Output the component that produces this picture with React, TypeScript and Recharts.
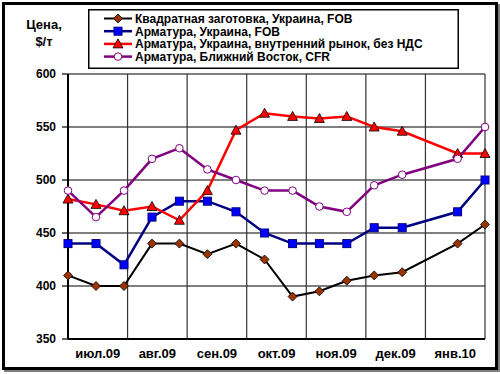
import { LineChart, Line, XAxis, YAxis, CartesianGrid, Legend } from "recharts";

// position of each quote, in months from 1 Jul 2009
const quotePos = [0, 0.47, 0.94, 1.41, 1.87, 2.34, 2.82, 3.3, 3.77, 4.22, 4.68, 5.14, 5.61, 6.54, 7];

const billetUaFob = [410, 400, 400, 440, 440, 430, 440, 425, 390, 395, 405, 410, 413, 440, 458];
const rebarUaFob = [440, 440, 420, 465, 480, 480, 470, 450, 440, 440, 440, 455, 455, 470, 500];
const rebarUaDomestic = [482, 477, 471, 475, 462, 490, 547, 563, 560, 558, 560, 550, 546, 525, 525];
const rebarMeCfr = [490, 465, 490, 520, 530, 510, 500, 490, 490, 475, 470, 495, 505, 520, 550];

const monthLabels = ["июл.09", "авг.09", "сен.09", "окт.09", "ноя.09", "дек.09", "янв.10"];
const monthLabelPos = [0.5, 1.5, 2.5, 3.5, 4.5, 5.5, 6.5];
const monthBounds = [0, 1, 2, 3, 4, 5, 6, 7];
const priceTicks = [350, 400, 450, 500, 550, 600];

const data = quotePos.map((pos, i) => ({
  pos,
  billet: billetUaFob[i],
  rebarFob: rebarUaFob[i],
  rebarDom: rebarUaDomestic[i],
  rebarMe: rebarMeCfr[i],
}));

const FONT = '"Liberation Sans", Arial, sans-serif';

const Diamond = ({ cx, cy }: any) => (
  <path d={`M${cx},${cy - 4.5}L${cx + 4.5},${cy}L${cx},${cy + 4.5}L${cx - 4.5},${cy}Z`} fill="#993300" stroke="#000" strokeWidth={0.8} />
);
const Square = ({ cx, cy }: any) => (
  <rect x={cx - 4} y={cy - 4} width={8} height={8} fill="#0000ff" stroke="#000080" strokeWidth={1} />
);
const Triangle = ({ cx, cy }: any) => (
  <path d={`M${cx},${cy - 5}L${cx + 5},${cy + 4}L${cx - 5},${cy + 4}Z`} fill="#ff0000" stroke="#000" strokeWidth={0.8} />
);
const Circle = ({ cx, cy }: any) => (
  <circle cx={cx} cy={cy} r={3.8} fill="#fff" stroke="#800080" strokeWidth={1} />
);

const series = [
  { key: "billet", name: "Квадратная заготовка, Украина, FOB", color: "#000000", width: 2, Marker: Diamond },
  { key: "rebarFob", name: "Арматура, Украина, FOB", color: "#000080", width: 2.5, Marker: Square },
  { key: "rebarDom", name: "Арматура, Украина, внутренний рынок, без НДС", color: "#ff0000", width: 2.5, Marker: Triangle },
  { key: "rebarMe", name: "Арматура, Ближний Восток, CFR", color: "#800080", width: 2.5, Marker: Circle },
];

function LegendBox() {
  return (
    <svg width={371} height={60} style={{ display: "block" }}>
      <rect x={0.75} y={0.75} width={369.5} height={58.5} fill="#fff" stroke="#000" strokeWidth={1.5} />
      {series.map((s, i) => {
        const y = 9.5 + i * 12.7;
        return (
          <g key={s.key}>
            <line x1={16} x2={44} y1={y} y2={y} stroke={s.color} strokeWidth={s.width} />
            <s.Marker cx={30} cy={y} />
            <text x={47} y={y + 4.3} fontFamily={FONT} fontWeight="bold" fontSize={12} fill="#000">
              {s.name}
            </text>
          </g>
        );
      })}
    </svg>
  );
}

function AxisTitle({ viewBox }: any) {
  const cx = viewBox.x + 36;
  return (
    <g fontFamily={FONT} fontWeight="bold" fontSize={13} fill="#000" textAnchor="middle">
      <text x={cx} y={viewBox.y - 45}>Цена,</text>
      <text x={cx} y={viewBox.y - 28}>$/т</text>
    </g>
  );
}

export default function App() {
  return (
    <div style={{ position: "absolute", left: 0, top: 0, width: 500, height: 374, background: "#fff" }}>
      <div
        style={{
          position: "absolute",
          left: 2,
          top: 2,
          width: 490,
          height: 362,
          border: "3px solid #000",
          boxShadow: "2px 2px 0 #808080",
        }}
      />
      <div style={{ position: "absolute", left: 0, top: 0 }}>
        <LineChart width={500} height={374} data={data} margin={{ top: 74, right: 15, bottom: 5, left: 8 }}>
          <CartesianGrid vertical={false} stroke="#000" strokeWidth={1.2} />
          <CartesianGrid
            horizontal={false}
            stroke="#333"
            strokeWidth={1.2}
            verticalCoordinatesGenerator={({ offset }: any) =>
              monthBounds.map((m) => offset.left + (offset.width * m) / 7)
            }
          />
          <XAxis
            dataKey="pos"
            type="number"
            domain={[0, 7]}
            ticks={monthLabelPos}
            tickFormatter={(v: number) => monthLabels[monthLabelPos.indexOf(v)]}
            interval={0}
            height={30}
            tickLine={false}
            tickSize={0}
            tickMargin={10}
            axisLine={{ stroke: "#000", strokeWidth: 2 }}
            tick={{ fill: "#000", fontFamily: FONT, fontWeight: "bold", fontSize: 13 }}
          />
          <YAxis
            type="number"
            domain={[350, 600]}
            ticks={priceTicks}
            interval={0}
            width={60}
            tickSize={6}
            tickMargin={6}
            tickLine={{ stroke: "#000", strokeWidth: 1.2 }}
            axisLine={{ stroke: "#000", strokeWidth: 2 }}
            tick={{ fill: "#000", fontFamily: FONT, fontWeight: "bold", fontSize: 12 }}
            label={{ content: AxisTitle }}
          />
          <Legend
            layout="vertical"
            align="center"
            verticalAlign="middle"
            wrapperStyle={{ left: 88, top: 9, width: 371, height: 60 }}
            content={() => <LegendBox />}
          />
          {series.map((s) => (
            <Line
              key={s.key}
              type="linear"
              dataKey={s.key}
              name={s.name}
              stroke={s.color}
              strokeWidth={s.width}
              isAnimationActive={false}
              dot={(p: any) => <s.Marker key={`${s.key}-${p.index}`} cx={p.cx} cy={p.cy} />}
              activeDot={false}
            />
          ))}
        </LineChart>
      </div>
    </div>
  );
}
